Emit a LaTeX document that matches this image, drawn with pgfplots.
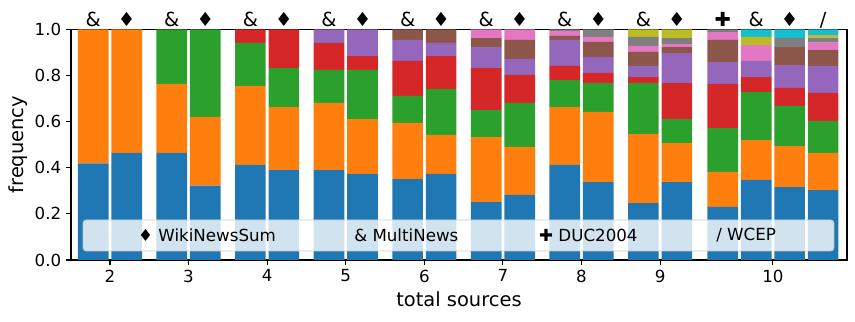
\documentclass[border=0pt]{standalone}
\usepackage{pgfplots}
\pgfplotsset{compat=1.18}
\usepackage{pgfplotstable}
\usepackage{fontspec}
\setmainfont{DejaVu Sans}

\definecolor{tabblue}{RGB}{31,119,180}
\definecolor{taborange}{RGB}{255,127,14}
\definecolor{tabgreen}{RGB}{44,160,44}
\definecolor{tabred}{RGB}{214,39,40}
\definecolor{tabpurple}{RGB}{148,103,189}
\definecolor{tabbrown}{RGB}{140,86,75}
\definecolor{tabpink}{RGB}{227,119,194}
\definecolor{tabgray}{RGB}{127,127,127}
\definecolor{tabolive}{RGB}{188,189,34}
\definecolor{tabcyan}{RGB}{23,190,207}
\definecolor{legedge}{RGB}{204,204,204}

% share of each segment per bar (bars left to right)
\pgfplotstableread{
x      b    o    g    r    p    br   pk   gy   ol   cy
1.787  .419 .581 0    0    0    0    0    0    0    0
2.213  .464 .536 0    0    0    0    0    0    0    0
2.787  .464 .299 .237 0    0    0    0    0    0    0
3.213  .322 .298 .380 0    0    0    0    0    0    0
3.787  .412 .342 .187 .059 0    0    0    0    0    0
4.213  .390 .273 .169 .168 0    0    0    0    0    0
4.787  .390 .291 .143 .117 .059 0    0    0    0    0
5.213  .373 .238 .213 .060 .116 0    0    0    0    0
5.787  .351 .243 .117 .152 .091 .046 0    0    0    0
6.213  .373 .169 .199 .143 .057 .059 0    0    0    0
6.787  .251 .282 .117 .182 .091 .039 .038 0    0    0
7.213  .282 .208 .191 .121 .069 .083 .046 0    0    0
7.787  .412 .251 .117 .061 .113 .017 .022 .007 0    0
8.213  .338 .304 .125 .044 .069 .065 .022 .033 0    0
8.787  .247 .299 .221 .026 .048 .061 .026 .039 .033 0
9.213  .338 .169 .104 .156 .130 .026 .013 .026 .038 0
9.796  .230 .152 .190 .191 .095 .096 .034 .012 0    0
10.222 .347 .173 .208 .065 .070 0    .069 0    .035 .033
10.648 .316 .178 .174 .078 .099 .078 0    .039 0    .038
11.074 .303 .161 .139 .121 .117 .069 .032 .022 .011 .025
}\freq

\begin{document}
\begin{tikzpicture}
\begin{axis}[
 scale only axis,width=558.7pt,height=166.1pt,
 xmin=1.504,xmax=11.377,ymin=0,ymax=1,
 ybar stacked,bar width=0.39,
 xtick={2,3,4,5,6,7,8,9,10.435},
 xticklabels={2,3,4,5,6,7,8,9,10},
 ytick={0,0.2,0.4,0.6,0.8,1},
 yticklabel style={/pgf/number format/.cd,fixed,fixed zerofill,precision=1},
 /pgf/number format/assume math mode=true,
 tick label style={font=\fontsize{12}{14}\selectfont},
 label style={font=\fontsize{14}{16}\selectfont},
 xlabel={total sources},ylabel={frequency},
 ylabel style={yshift=-2pt},
 tick align=outside,xtick pos=bottom,ytick pos=left,
 major tick length=3.5pt,
 axis line style={line width=0.8pt},
 every tick/.style={black,line width=0.8pt},
 clip=false,
]
\addplot[fill=tabblue,draw=none] table[x=x,y=b]{\freq};
\addplot[fill=taborange,draw=none] table[x=x,y=o]{\freq};
\addplot[fill=tabgreen,draw=none] table[x=x,y=g]{\freq};
\addplot[fill=tabred,draw=none] table[x=x,y=r]{\freq};
\addplot[fill=tabpurple,draw=none] table[x=x,y=p]{\freq};
\addplot[fill=tabbrown,draw=none] table[x=x,y=br]{\freq};
\addplot[fill=tabpink,draw=none] table[x=x,y=pk]{\freq};
\addplot[fill=tabgray,draw=none] table[x=x,y=gy]{\freq};
\addplot[fill=tabolive,draw=none] table[x=x,y=ol]{\freq};
\addplot[fill=tabcyan,draw=none] table[x=x,y=cy]{\freq};

% dataset markers above the bars
\tikzset{mk/.style={anchor=base,font=\fontsize{14}{16}\selectfont,inner sep=0pt}}
\node[mk] at (axis cs:1.787,1.014) {\&};
\node[mk] at (axis cs:2.213,1.014) {♦};
\node[mk] at (axis cs:2.787,1.014) {\&};
\node[mk] at (axis cs:3.213,1.014) {♦};
\node[mk] at (axis cs:3.787,1.014) {\&};
\node[mk] at (axis cs:4.213,1.014) {♦};
\node[mk] at (axis cs:4.787,1.014) {\&};
\node[mk] at (axis cs:5.213,1.014) {♦};
\node[mk] at (axis cs:5.787,1.014) {\&};
\node[mk] at (axis cs:6.213,1.014) {♦};
\node[mk] at (axis cs:6.787,1.014) {\&};
\node[mk] at (axis cs:7.213,1.014) {♦};
\node[mk] at (axis cs:7.787,1.014) {\&};
\node[mk] at (axis cs:8.213,1.014) {♦};
\node[mk] at (axis cs:8.787,1.014) {\&};
\node[mk] at (axis cs:9.213,1.014) {♦};
\node[mk] at (axis cs:9.796,1.014) {✚};
\node[mk] at (axis cs:10.222,1.014) {\&};
\node[mk] at (axis cs:10.648,1.014) {♦};
\node[mk] at (axis cs:11.074,1.014) {/};

% anchor points for the legend, drawn after the bars
\coordinate (lgsw) at (rel axis cs:0.0155,0.039);
\coordinate (lgne) at (rel axis cs:0.9832,0.1734);
\coordinate (lg1) at (rel axis cs:0.0863,0.106);
\coordinate (lg2) at (rel axis cs:0.3647,0.106);
\coordinate (lg3) at (rel axis cs:0.6031,0.106);
\coordinate (lg4) at (rel axis cs:0.8312,0.106);
\end{axis}
\draw[legedge,fill=white,fill opacity=0.8,rounded corners=2.5pt,line width=0.7pt]
 (lgsw) rectangle (lgne);
\tikzset{lg/.style={anchor=west,font=\fontsize{12}{14}\selectfont,inner sep=0pt}}
\node[lg] at (lg1) {♦ WikiNewsSum};
\node[lg] at (lg2) {\& MultiNews};
\node[lg] at (lg3) {✚ DUC2004};
\node[lg] at (lg4) {/ WCEP};
\pgfresetboundingbox
\path[use as bounding box] ([shift={(-51.1pt,-44.6pt)}]current axis.south west)
 rectangle ([shift={(5.8pt,21.1pt)}]current axis.north east);
\end{tikzpicture}
\end{document}
